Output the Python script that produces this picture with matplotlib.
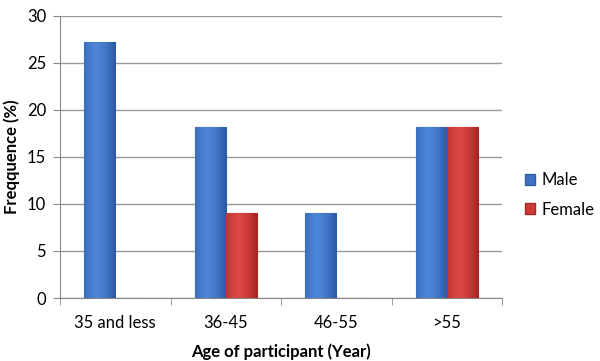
import numpy as np
import matplotlib.pyplot as plt
from matplotlib.patches import Patch

plt.rcParams['font.family'] = ['Lato', 'DejaVu Sans']

categories = ['35 and less', '36-45', '46-55', '>55']
male = [27.27, 18.18, 9.09, 18.18]
female = [0, 9.09, 0, 18.18]

fig = plt.figure(figsize=(6, 3.61), dpi=100)
ax = fig.add_axes([0.1, 0.1745, 0.737, 0.7815])

x = np.arange(len(categories))
w = 0.28

def shaded_bars(xpos, vals, base, dark, light):
    bars = ax.bar(xpos, vals, w, color=base, edgecolor=dark, linewidth=0.8, zorder=3)
    grad = np.linspace(0, 1, 64)
    grad = (np.abs(grad - 0.4) * 1.7) ** 1.5
    for b in bars:
        if b.get_height() <= 0:
            continue
        x0, y0 = b.get_x(), b.get_y()
        cols = np.array([np.array(light) * (1 - g) + np.array(dark) * g for g in grad])
        im = ax.imshow(cols[None, :, :], extent=[x0, x0 + b.get_width(), y0, y0 + b.get_height()],
                       aspect='auto', zorder=3.5, interpolation='bicubic')
        im.set_clip_path(b)
    return bars

blue_light = (0.30, 0.52, 0.85)
blue_dark = (0.18, 0.36, 0.65)
red_light = (0.86, 0.28, 0.26)
red_dark = (0.66, 0.15, 0.14)

shaded_bars(x - w / 2, male, '#3e70c4', blue_dark, blue_light)
shaded_bars(x + w / 2, female, '#cf3a35', red_dark, red_light)

ax.set_xlim(-0.5, len(categories) - 0.5)
ax.set_ylim(0, 30)
ax.set_yticks(range(0, 31, 5))
ax.set_xticks(x)
ax.set_xticklabels(categories, fontsize=12)
ax.set_xticks(np.arange(-0.5, len(categories)), minor=True)
ax.tick_params(axis='x', which='major', length=0, pad=12)
ax.tick_params(axis='x', which='minor', length=5, color='#888888', direction='out')
ax.tick_params(axis='y', labelsize=12, length=5, color='#888888', pad=5)

ax.grid(axis='y', color='#999999', linewidth=1, zorder=0)
ax.set_axisbelow(True)
for s in ['top', 'right']:
    ax.spines[s].set_visible(False)
for s in ['left', 'bottom']:
    ax.spines[s].set_color('#888888')

ax.set_xlabel('Age of participant (Year)', fontsize=12, fontweight='bold', labelpad=9)
ax.set_ylabel('Freqquence (%)', fontsize=12, fontweight='bold', labelpad=5)

handles = [Patch(facecolor='#3e70c4', edgecolor=blue_dark, label='Male'),
           Patch(facecolor='#cf3a35', edgecolor=red_dark, label='Female')]
fig.legend(handles=handles, loc='center left', bbox_to_anchor=(0.875, 0.46), frameon=False,
           fontsize=12, handlelength=0.6, handleheight=0.6, handletextpad=0.4,
           labelspacing=0.8, borderpad=0, borderaxespad=0)

fig.savefig('out.png', dpi=100)
